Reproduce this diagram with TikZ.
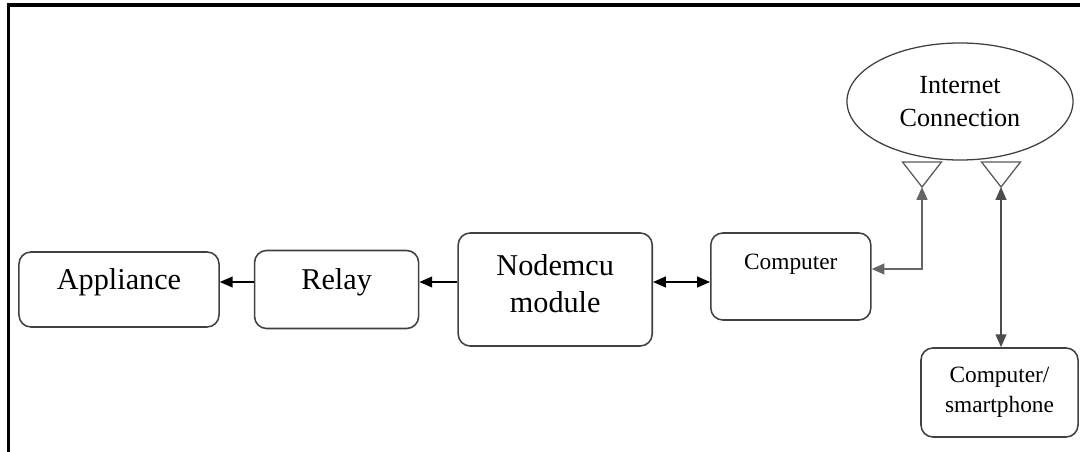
\documentclass[tikz,border=0pt]{standalone}
\usepackage{fontspec}
\setmainfont{Liberation Serif}
\usetikzlibrary{arrows.meta, positioning, shapes.geometric}
\tikzset {
    x=0.025cm,
    y=-0.025cm,
    >={Triangle[length=0.32cm, width=0.27cm]},
    block/.style={draw=black!75, line width=1.1pt, rounded corners=0.3cm, inner sep=0pt, align=center},
    bigtext/.style={font=\fontsize{21.5}{26}\selectfont},
    smalltext/.style={font=\fontsize{16.6}{21}\selectfont},
    link/.style={line width=1pt, black},
    antenna/.style={draw=black!65, line width=0.9pt}
}
\begin{document}
\begin{tikzpicture}
                            \useasboundingbox (0,0) rectangle (1080,452);
                            \draw[line width=2.2pt] (8.5,452) |- (1080,5);

                            \node[block, bigtext, minimum width=5cm, minimum height=1.875cm, text height=0.5cm, text depth=0.5cm] (app) at (119,289.5) {Appliance};
                            \node[block, bigtext, minimum width=4.1cm, minimum height=1.95cm, text height=0.5cm, text depth=0.5cm, right=0.85cm of app] (relay) {Relay};
                            \node[block, bigtext, minimum width=4.85cm, minimum height=2.825cm, right=0.95cm of relay] (mcu) {Nodemcu\\module\rule[-0.3cm]{0pt}{0.3cm}};
                            \node[block, smalltext, minimum width=4cm, minimum height=2.175cm, text height=0.3cm, text depth=0.625cm, right=1.425cm of mcu.north east, anchor=north west] (comp) {Computer};
                            \node[ellipse, draw=black!75, line width=0.9pt, inner sep=0pt, minimum width=5.65cm, minimum height=2.925cm, align=center, font=\fontsize{18.6}{24}\selectfont] (net) at (960,101.5) {Internet\\Connection};
                            \node[block, smalltext, minimum width=3.925cm, minimum height=2.225cm] (phone) at (999.5,392.5) {Computer/\\smartphone};

                            \coordinate (t1) at (922,187);
                            \coordinate (t2) at (1001,187);
                            \coordinate (lvl) at (0,282);
                            \coordinate (bend) at (922,269);

                            \draw[antenna] (t1) -- ++(-19.5,-25) -- ++(39,0) -- cycle;
                            \draw[antenna] (t2) -- ++(-19.5,-25) -- ++(39,0) -- cycle;

                            \draw[link]
                            (relay.west |- lvl) edge[->] (app.east |- lvl)
                            (mcu.west |- lvl) edge[->] (relay.east |- lvl)
                            (mcu.east |- lvl) edge[<->] (comp.west |- lvl)
                            (t2) edge[<->, draw=black!70] (phone.north -| t2);
                            \draw[link, <->, draw=black!60, line width=1.4pt] (comp.east |- bend) -| (t1);
                        \end{tikzpicture}
\end{document}
